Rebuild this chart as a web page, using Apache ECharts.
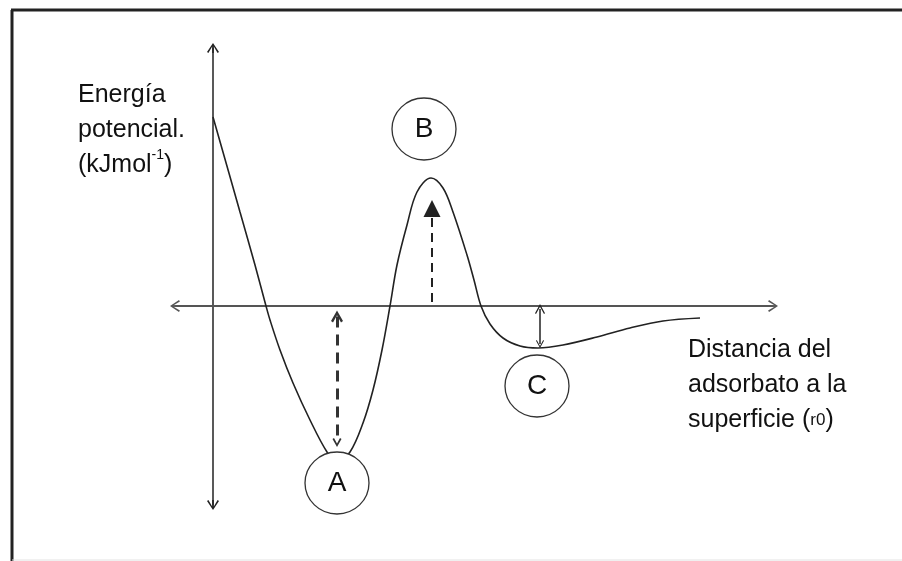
<!DOCTYPE html>
<html>
<head>
<meta charset="utf-8">
<title>Energía potencial - adsorción</title>
<script src="https://cdn.jsdelivr.net/npm/echarts@6/dist/echarts.min.js"></script>
<style>
  html, body { margin: 0; padding: 0; background: #fff; }
  #chart { width: 902px; height: 561px; }
</style>
</head>
<body>
<div id="chart"></div>
<script>
// curva de energía potencial: distancia (u.a.) y energía (u.a.)
var distancia = [0, 0.27, 0.42, 0.53, 0.57, 0.67, 0.80, 0.97, 1.14, 1.24, 1.37, 1.50, 1.60, 1.69, 1.77,
                 1.84, 1.94, 2.04, 2.18, 2.30, 2.40, 2.54, 2.61, 2.68, 2.77, 2.90, 3.07, 3.25, 3.50, 3.84, 4.17, 4.50, 4.87];
var energia = [94.5, 47, 20.5, 0, -7, -22, -38.5, -57, -73, -78, -73, -58.5, -42, -22, 0,
               20.5, 40.5, 57, 64, 59, 47, 25.5, 13, 0, -9, -16, -20, -21, -19.5, -15.5, -11, -7.5, -6];

// estados marcados
var estados = ['A', 'B', 'C'];
var estadosX = [1.24, 2.11, 3.24];
var estadosY = [-88.5, 88.5, -40];

// flechas (inicio, fin)
var flechaA = [[1.24, -5.25], [1.24, -68.25]];
var flechaB = [[2.19, 2], [2.19, 48.75]];
var flechaC = [[3.27, -1.5], [3.27, -19]];

var fuente = "'Liberation Sans', Arial, sans-serif";

// punta de flecha abierta (con pequeño tallo)
var punta = 'path://M6,0 L12,9 L10.6,9.9 L6.8,3.6 L6.8,10 L5.2,10 L5.2,3.6 L1.4,9.9 L0,9 Z';
var puntaGruesa = 'path://M6,0 L12,9 L10,10.2 L6,4 L2,10.2 L0,9 Z';
var puntaFina = 'path://M6,0 L12,9 L10.8,9.8 L6,2.6 L1.2,9.8 L0,9 Z';

var myChart = echarts.init(document.getElementById('chart'));

myChart.setOption({
    animation: false,
    backgroundColor: '#fff',
    grid: { left: 175, right: 129, top: 48, bottom: 56, containLabel: false },
    xAxis: {
        type: 'value',
        min: -0.38,
        max: 5.6,
        axisLine: {
            onZero: true,
            symbol: [punta, punta],
            symbolSize: [12, 10],
            lineStyle: { color: '#555', width: 2 }
        },
        axisTick: { show: false },
        axisLabel: { show: false },
        splitLine: { show: false }
    },
    yAxis: {
        type: 'value',
        min: -99.5,
        max: 129,
        axisLine: {
            onZero: true,
            symbol: [punta, punta],
            symbolSize: [12, 10],
            lineStyle: { color: '#222', width: 1.5 }
        },
        axisTick: { show: false },
        axisLabel: { show: false },
        splitLine: { show: false }
    },
    series: [
        {
            type: 'line',
            data: distancia.map(function (d, i) { return [d, energia[i]]; }),
            smooth: 0.35,
            showSymbol: false,
            lineStyle: { color: '#222', width: 1.6 },
            z: 3
        },
        {
            type: 'lines',
            coordinateSystem: 'cartesian2d',
            symbol: [puntaGruesa, puntaGruesa],
            symbolSize: [12, 9],
            lineStyle: { color: '#333', width: 3, type: [11, 7], opacity: 1 },
            data: [{ coords: flechaA }],
            z: 4
        },
        {
            type: 'lines',
            coordinateSystem: 'cartesian2d',
            symbol: ['none', 'triangle'],
            symbolSize: [15, 17],
            lineStyle: { color: '#222', width: 2, type: [9, 6], opacity: 1 },
            data: [{ coords: flechaB }],
            z: 4
        },
        {
            type: 'lines',
            coordinateSystem: 'cartesian2d',
            symbol: [puntaFina, puntaFina],
            symbolSize: [10, 8],
            lineStyle: { color: '#222', width: 1.5, type: 'solid', opacity: 1 },
            data: [{ coords: flechaC }],
            z: 4
        },
        {
            type: 'scatter',
            symbol: 'circle',
            symbolSize: [64, 62],
            itemStyle: { color: '#fff', borderColor: '#333', borderWidth: 1.3, opacity: 1 },
            label: {
                show: true,
                position: 'inside',
                formatter: '{b}',
                fontFamily: fuente,
                fontSize: 28,
                color: '#111'
            },
            data: estados.map(function (n, i) { return { name: n, value: [estadosX[i], estadosY[i]] }; }),
            z: 5
        }
    ],
    graphic: [
        // marco
        { type: 'line', shape: { x1: 12, y1: 10, x2: 12, y2: 561 }, style: { stroke: '#222', lineWidth: 3 } },
        { type: 'line', shape: { x1: 11, y1: 10, x2: 902, y2: 10 }, style: { stroke: '#222', lineWidth: 3 } },
        { type: 'line', shape: { x1: 12, y1: 560, x2: 902, y2: 560 }, style: { stroke: '#e2e2e2', lineWidth: 1 } },
        {
            type: 'text',
            left: 78,
            top: 78,
            style: {
                text: 'Energía\npotencial.\n(kJmol{sup|-1})',
                fontFamily: fuente,
                fontSize: 25,
                lineHeight: 35,
                fill: '#111',
                rich: {
                    sup: { fontFamily: fuente, fontSize: 14, lineHeight: 22, verticalAlign: 'top', fill: '#111' }
                }
            }
        },
        {
            type: 'text',
            left: 688,
            top: 333,
            style: {
                text: 'Distancia del\nadsorbato a la\nsuperficie ({sub|r0})',
                fontFamily: fuente,
                fontSize: 25,
                lineHeight: 35,
                fill: '#111',
                rich: {
                    sub: { fontFamily: fuente, fontSize: 17, lineHeight: 35, fill: '#111' }
                }
            }
        }
    ]
});
</script>
</body>
</html>
